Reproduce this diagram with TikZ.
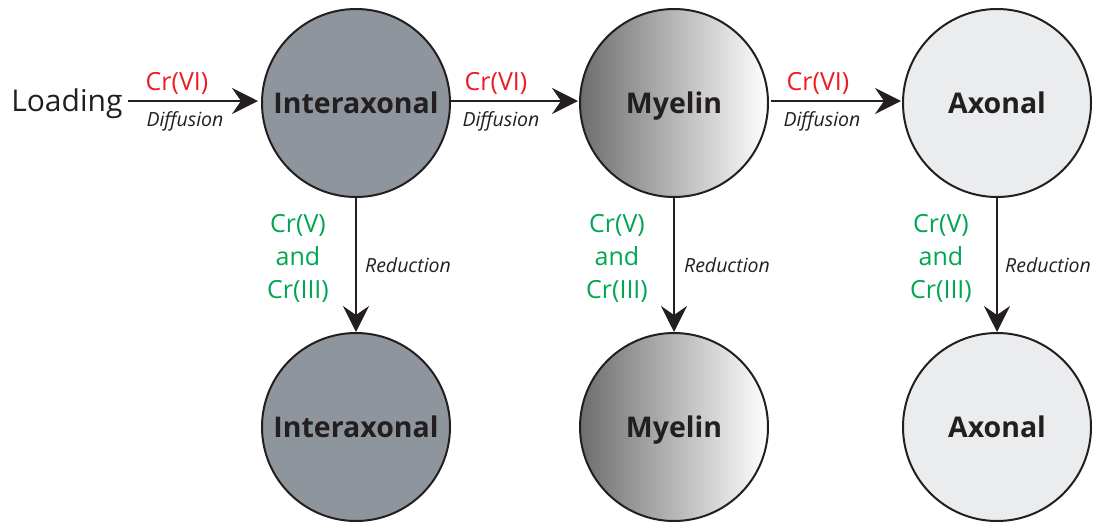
\documentclass[tikz,border=0pt]{standalone}
\usepackage{fontspec}
\setmainfont{Open Sans}
\usetikzlibrary{arrows.meta}
\definecolor{ink}{HTML}{231F20}
\definecolor{crred}{HTML}{ED1C24}
\definecolor{crgreen}{HTML}{00A651}
\definecolor{interfill}{HTML}{8F959D}
\definecolor{axfill}{HTML}{EBECEE}
\tikzset{
  x=1pt, y=-1pt,
  cell/.style={circle, draw=ink, line width=2pt, minimum size=188pt, inner sep=0pt, text depth=0pt, font=\fontsize{28.5}{31}\selectfont\bfseries, text=ink},
  inter/.style={cell, fill=interfill},
  myel/.style={cell, left color=black!57, right color=white},
  axon/.style={cell, fill=axfill},
  flow/.style={ink, line width=2pt, -{Stealth[length=26pt,width=26pt,inset=9pt]}},
  crvi/.style={text=crred, font=\fontsize{25}{27}\selectfont},
  proc/.style={text=ink, font=\fontsize{19.5}{21}\selectfont\itshape},
  crv/.style={text=crgreen, font=\fontsize{25}{33}\selectfont, align=center},
}
\begin{document}
\begin{tikzpicture}
\useasboundingbox (0,0) rectangle (1094,523);
\node[inter] (i1) at (356,103) {Interaxonal};
\node[myel] (m1) at (674,103) {Myelin};
\node[axon] (a1) at (997,103) {Axonal};
\node[inter] (i2) at (356,427) {Interaxonal};
\node[myel] (m2) at (674,427) {Myelin};
\node[axon] (a2) at (997,427) {Axonal};
\node[text=ink, font=\fontsize{30}{32}\selectfont, anchor=east] (load) at (126,104) {Loading};
\coordinate (l0) at (128,101);
\coordinate (l1) at (258,101);
\draw[flow] (l0) -- (l1);
\coordinate (p0) at (450,101);
\coordinate (p1) at (578,101);
\draw[flow] (p0) -- (p1);
\coordinate (q0) at (771,101);
\coordinate (q1) at (901,101);
\draw[flow] (q0) -- (q1);
\node[crvi] at (177,83) {Cr(VI)};
\node[crvi] at (496,83) {Cr(VI)};
\node[crvi] at (818,83) {Cr(VI)};
\node[proc] at (185,121) {Diffusion};
\node[proc] at (501,121) {Diffusion};
\node[proc] at (822,121) {Diffusion};
\draw[flow] (i1) -- (i2);
\draw[flow] (m1) -- (m2);
\draw[flow] (a1) -- (a2);
\node[crv] at (298,258) {Cr(V)\\and\\Cr(III)};
\node[crv] at (617,258) {Cr(V)\\and\\Cr(III)};
\node[crv] at (941,258) {Cr(V)\\and\\Cr(III)};
\node[proc] at (408,265) {Reduction};
\node[proc] at (727,265) {Reduction};
\node[proc] at (1048,265) {Reduction};
\end{tikzpicture}
\end{document}
